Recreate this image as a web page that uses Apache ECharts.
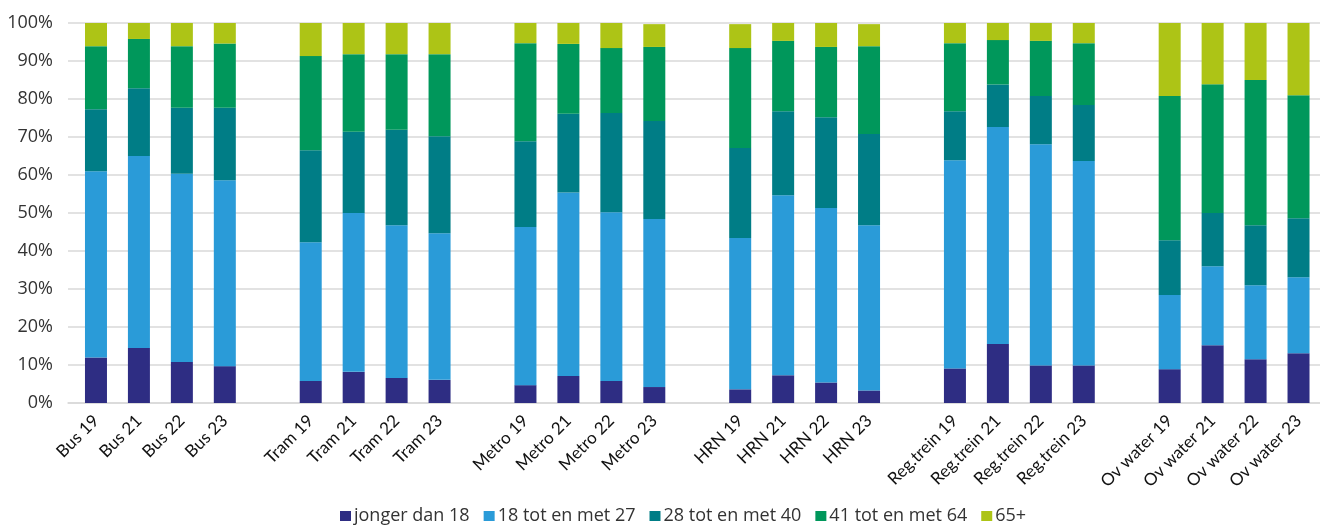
<!DOCTYPE html>
<html>
<head>
<meta charset="utf-8">
<title>Leeftijdsopbouw reizigers per modaliteit</title>
<script src="https://cdn.jsdelivr.net/npm/echarts@6/dist/echarts.min.js"></script>
<style>
  html, body { margin: 0; padding: 0; background: #ffffff; }
  #chart { width: 1320px; height: 525px; }
</style>
</head>
<body>
<div id="chart"></div>
<script>
// Modalities and survey years (bars are grouped per modality)
const modes = ['Bus', 'Tram', 'Metro', 'HRN', 'Reg.trein', 'Ov water'];
const years = ['19', '21', '22', '23'];

// Age groups (legend order, bottom to top in the stack)
const ageGroups = ['jonger dan 18', '18 tot en met 27', '28 tot en met 40', '41 tot en met 64', '65+'];
const ageColors = ['#2e2d83', '#2a9bd8', '#007d86', '#00975b', '#adc416'];

// Share per age group (%), 24 bars: Bus 19..23, Tram 19..23, Metro, HRN, Reg.trein, Ov water
const under18 = [12.0, 14.5, 10.8, 9.7,   5.8, 8.2, 6.6, 6.1,   4.7, 7.1, 5.8, 4.2,   3.6, 7.3, 5.4, 3.3,   9.1, 15.5, 9.9, 9.9,   8.9, 15.2, 11.5, 13.1];
const age18to27 = [49.0, 50.5, 49.5, 48.9,   36.5, 41.8, 40.2, 38.6,   41.6, 48.3, 44.4, 44.2,   39.8, 47.4, 45.9, 43.5,   54.8, 57.1, 58.2, 53.8,   19.5, 20.8, 19.5, 20.0];
const age28to40 = [16.3, 17.8, 17.4, 19.1,   24.2, 21.4, 25.1, 25.5,   22.6, 20.7, 26.1, 25.8,   23.7, 22.1, 23.9, 24.0,   12.9, 11.2, 12.7, 14.7,   14.4, 14.0, 15.8, 15.5];
const age41to64 = [16.6, 13.0, 16.2, 16.9,   24.8, 20.4, 19.9, 21.6,   25.8, 18.4, 17.1, 19.5,   26.3, 18.5, 18.5, 23.1,   17.9, 11.7, 14.5, 16.3,   38.0, 33.9, 38.2, 32.4];
const age65plus = [6.1, 4.2, 6.1, 5.4,   8.7, 8.2, 8.2, 8.2,   5.3, 5.5, 6.6, 6.0,   6.3, 4.7, 6.3, 5.8,   5.3, 4.5, 4.7, 5.3,   19.2, 16.1, 15.0, 19.0];

// Value axis ticks
const yTicks = [0, 10, 20, 30, 40, 50, 60, 70, 80, 90, 100];

const seriesValues = [under18, age18to27, age28to40, age41to64, age65plus];

// Build the category axis with one empty slot between modality groups
const categories = [];
const slotIndex = [];
modes.forEach((m, gi) => {
  if (gi > 0) categories.push('');
  years.forEach(y => {
    slotIndex.push(categories.length);
    categories.push(m + ' ' + y);
  });
});

function withGaps(values) {
  const out = categories.map(() => '-');
  values.forEach((v, i) => { out[slotIndex[i]] = v; });
  return out;
}

const gridTop = 23;
const gridBottom = 122;
const textFont = '"Open Sans", Lato, sans-serif';

const option = {
  animation: false,
  backgroundColor: '#ffffff',
  color: ageColors,
  grid: [
    // frame for the value gridlines and the baseline
    { left: 68, right: 0, top: gridTop, bottom: gridBottom, containLabel: false },
    // frame for the bars and category labels
    { left: 74.5, right: -4.5, top: gridTop, bottom: gridBottom, containLabel: false }
  ],
  legend: {
    data: ageGroups,
    left: 335,
    top: 502,
    icon: 'rect',
    itemWidth: 11,
    itemHeight: 10,
    itemGap: 14,
    textStyle: { fontFamily: textFont, fontSize: 18, color: '#333333', padding: [0, 0, 0, -2] }
  },
  xAxis: [
    {
      gridIndex: 0,
      type: 'value',
      min: 0, max: 1,
      axisLine: { show: true, onZero: false, lineStyle: { color: '#d9d9d9', width: 1.5 } },
      axisTick: { show: false },
      axisLabel: { show: false },
      splitLine: { show: false }
    },
    {
      gridIndex: 1,
      type: 'category',
      data: categories,
      axisLine: { show: false },
      axisTick: { show: false },
      axisLabel: {
        interval: 0,
        rotate: 45,
        margin: 15,
        fontFamily: 'Lato, "Liberation Sans", sans-serif',
        fontSize: 17,
        color: '#111111'
      },
      splitLine: { show: false }
    }
  ],
  yAxis: [
    {
      gridIndex: 0,
      type: 'value',
      min: yTicks[0],
      max: yTicks[yTicks.length - 1],
      interval: 10,
      axisLine: { show: false },
      axisTick: { show: false },
      axisLabel: {
        margin: 15,
        formatter: v => v + '%',
        fontFamily: textFont,
        fontSize: 18,
        color: '#333333'
      },
      splitLine: { show: true, lineStyle: { color: '#d9d9d9', width: 1.5 } }
    },
    {
      gridIndex: 1,
      type: 'value',
      min: yTicks[0],
      max: yTicks[yTicks.length - 1],
      interval: 10,
      axisLine: { show: false },
      axisTick: { show: false },
      axisLabel: { show: false },
      splitLine: { show: false }
    }
  ],
  series: ageGroups.map((name, i) => ({
    name: name,
    type: 'bar',
    xAxisIndex: 1,
    yAxisIndex: 1,
    stack: 'share',
    barWidth: 22,
    itemStyle: { color: ageColors[i] },
    data: withGaps(seriesValues[i])
  }))
};

const chart = echarts.init(document.getElementById('chart'), null, { renderer: 'canvas' });
chart.setOption(option);
</script>
</body>
</html>
